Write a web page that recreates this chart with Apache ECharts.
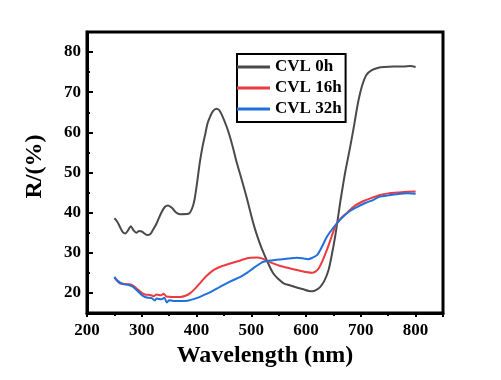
<!DOCTYPE html>
<html><head><meta charset="utf-8">
<script src="https://cdn.jsdelivr.net/npm/echarts@6/dist/echarts.min.js"></script>
<style>html,body{margin:0;padding:0;background:#fff}#c{width:501px;height:380px}</style>
</head><body><div id="c"></div>
<script>
const seriesNames = ['CVL 0h', 'CVL 16h', 'CVL 32h'];
const xTickLabels = [200, 300, 400, 500, 600, 700, 800];
const yTickLabels = [20, 30, 40, 50, 60, 70, 80];

const wl0 = [250,255,260,265,270,275,280,285,290,295,300,305,310,315,320,327,335,342,348,355,362,370,385,394,400,406,411,416,420,425,430,436,441,446,455,461,467,473,480,486,492,498,505,512,519,530,540,550,559,570,583,595,605,611,618,626,634,641,647,653,658,662,667,672,680,688,695,702,710,720,732,742,760,778,790,800];
const r0  = [38.6,37.8,36.5,35.2,34.8,35.6,36.6,35.6,35.0,35.4,35.3,34.8,34.4,34.6,35.6,37.3,39.8,41.4,41.8,41.2,40.1,39.6,39.7,41.9,46.5,52.5,56.5,59.6,62.2,64.0,65.3,65.9,65.6,64.4,61.4,58.9,55.9,52.7,49.4,46.5,43.5,40.3,36.7,33.7,31.1,27.6,24.9,23.4,22.4,21.9,21.35,20.9,20.5,20.4,20.7,21.5,23.2,25.7,29.5,34.0,38.5,42.3,46.5,50.5,56.0,62.0,67.5,71.5,74.3,75.5,76.1,76.3,76.4,76.4,76.5,76.3];

const wl16 = [250,255,260,270,280,287,294,300,306,315,322,327,335,340,345,355,370,380,388,397,406,418,431,445,461,480,498,510,519,535,553,568,583,597,611,617,623,630,638,646,653,663,675,690,705,720,735,750,766,785,800];
const r16  = [23.8,23.0,22.4,22.2,22.1,21.5,20.7,20.0,19.6,19.5,19.2,19.6,19.4,19.8,19.1,19.0,19.0,19.3,19.9,21.0,22.4,24.2,25.7,26.6,27.35,28.1,28.75,28.8,28.6,27.6,26.7,26.2,25.7,25.3,25.0,25.3,26.1,28.0,30.7,33.8,36.5,38.5,40.0,41.8,42.9,43.7,44.4,44.8,45.0,45.2,45.25];

const wl32 = [250,256,266,275,282,290,297,303,309,318,324,327,336,341,346,350,358,370,380,388,400,412,428,443,461,480,492,505,516,522,537,553,568,583,595,604,612,620,629,638,650,662,677,693,708,723,735,750,766,785,800];
const r32  = [24.0,23.0,22.2,22.0,21.7,20.8,19.85,19.2,18.85,18.7,18.1,18.6,18.4,18.8,17.6,18.2,18.0,18.0,18.0,18.2,18.7,19.4,20.4,21.5,22.8,24.0,25.0,26.3,27.3,27.75,28.1,28.35,28.55,28.75,28.6,28.4,28.8,29.4,31.5,34.0,36.3,38.2,40.1,41.4,42.4,43.2,44.0,44.3,44.6,44.8,44.7];

const pairs = (xs, ys) => xs.map((x, i) => [x, ys[i]]);
const font = 'Liberation Serif';
const chart = echarts.init(document.getElementById('c'), null, {renderer: 'canvas'});
chart.setOption({
  animation: false,
  backgroundColor: '#fff',
  grid: {left: 87, top: 32, right: 58, bottom: 67, show: true, borderColor: '#000', borderWidth: 3, backgroundColor: 'transparent'},
  legend: {
    orient: 'vertical', left: 237, top: 54, padding: [3, 4, 3, 0], itemGap: 1,
    borderColor: '#000', borderWidth: 2, icon: 'rect', itemWidth: 33, itemHeight: 3,
    textStyle: {fontFamily: font, fontWeight: 'bold', fontSize: 17, color: '#000', lineHeight: 20},
    data: seriesNames
  },
  xAxis: {
    type: 'value', min: 200, max: 850, interval: 100,
    name: 'Wavelength (nm)', nameLocation: 'middle', nameGap: 31,
    nameTextStyle: {fontFamily: font, fontWeight: 'bold', fontSize: 24, color: '#000'},
    axisLine: {show: true, onZero: false, lineStyle: {color: '#000', width: 3}},
    axisTick: {show: true, inside: false, length: 4, lineStyle: {color: '#000', width: 2}},
    minorTick: {show: true, splitNumber: 2, length: 3, lineStyle: {color: '#000', width: 2}},
    axisLabel: {margin: 9, fontFamily: font, fontWeight: 'bold', fontSize: 17, color: '#000',
      formatter: v => xTickLabels.includes(v) ? String(v) : ''},
    splitLine: {show: false}
  },
  yAxis: [{
    type: 'value', min: 15, max: 85, interval: 5,
    name: 'R/(%)', nameLocation: 'middle', nameGap: 40,
    nameTextStyle: {fontFamily: font, fontWeight: 'bold', fontSize: 24, color: '#000', padding: [0, 0, 0, 12]},
    axisLine: {show: true, onZero: false, lineStyle: {color: '#000', width: 3}},
    axisTick: {show: true, inside: true, length: 3, lineStyle: {color: '#000', width: 2}},
    axisLabel: {margin: 6, fontFamily: font, fontWeight: 'bold', fontSize: 17, color: '#000',
      formatter: v => yTickLabels.includes(v) ? String(v) : ''},
    splitLine: {show: false}
  }, {
    type: 'value', min: 15, max: 85, interval: 5, position: 'left',
    axisLine: {show: false},
    axisTick: {show: true, inside: true, length: 6, customValues: yTickLabels, lineStyle: {color: '#000', width: 2}},
    axisLabel: {show: false},
    splitLine: {show: false}
  }],
  series: [
    {name: seriesNames[0], type: 'line', data: pairs(wl0, r0), showSymbol: false, smooth: 0.3, lineStyle: {color: '#4a4a4a', width: 2}, itemStyle: {color: '#4a4a4a'}},
    {name: seriesNames[1], type: 'line', data: pairs(wl16, r16), showSymbol: false, smooth: 0.3, lineStyle: {color: '#ec3a3f', width: 2}, itemStyle: {color: '#ec3a3f'}},
    {name: seriesNames[2], type: 'line', data: pairs(wl32, r32), showSymbol: false, smooth: 0.3, lineStyle: {color: '#1f6fdc', width: 2}, itemStyle: {color: '#1f6fdc'}}
  ]
});
</script></body></html>
